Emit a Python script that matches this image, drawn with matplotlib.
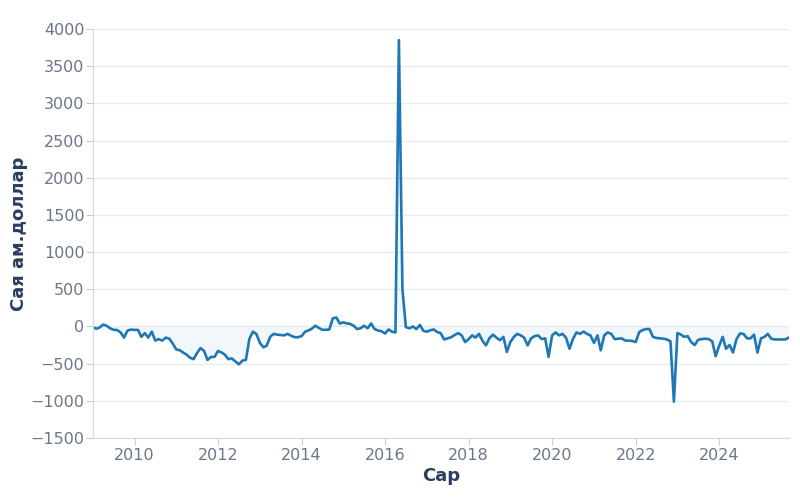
import matplotlib
matplotlib.use('Agg')
import matplotlib.pyplot as plt
import matplotlib.dates as mdates
import numpy as np
import pandas as pd

plt.rc('font', family='DejaVu Sans')

# monthly values, Jan 2009 .. Sep 2025 (сая ам.доллар)
values = [
    -10, -30, -15, 25, 10, -25, -45, -48, -80, -150,
    -55, -42, -47, -47, -140, -90, -150, -70, -190, -170,
    -190, -150, -165, -230, -310, -320, -350, -380, -420, -440,
    -360, -290, -330, -450, -410, -410, -330, -350, -380, -440,
    -430, -470, -510, -460, -450, -170, -70, -100, -220, -280,
    -260, -140, -100, -110, -115, -120, -100, -125, -145, -145,
    -130, -70, -55, -30, 10, -20, -45, -45, -40, 110,
    120, 40, 55, 40, 35, 10, -35, -25, 10, -25,
    40, -35, -55, -65, -95, -40, -70, -80, 3850, 500,
    -10, -25, 0, -35, 20, -60, -70, -50, -40, -75,
    -90, -175, -160, -145, -115, -90, -120, -210, -170, -120,
    -150, -100, -190, -255, -160, -110, -150, -185, -140, -343,
    -210, -140, -100, -120, -150, -255, -160, -130, -120, -170,
    -160, -410, -120, -80, -120, -100, -150, -300, -170, -80,
    -100, -70, -100, -120, -220, -120, -321, -120, -80, -100,
    -170, -165, -160, -190, -190, -195, -210, -75, -50, -35,
    -35, -140, -155, -160, -165, -175, -200, -1010, -90, -110,
    -140, -130, -210, -250, -180, -170, -165, -170, -200, -400,
    -260, -140, -300, -250, -350, -170, -95, -100, -160, -160,
    -110, -350, -160, -140, -100, -165, -175, -175, -175, -175,
    -150,
]
dates = pd.date_range('2009-01-01', periods=len(values), freq='MS')

y_ticks = [-1500, -1000, -500, 0, 500, 1000, 1500, 2000, 2500, 3000, 3500, 4000]

line_col = '#1f77b4'
tick_col = '#6b7689'
label_col = '#2a3f5f'
grid_col = '#e8ebf0'

fig = plt.figure(figsize=(8, 5), dpi=100)
ax = fig.add_axes([0.116, 0.124, 0.87, 0.818])

ax.fill_between(dates, values, 0, color=line_col, alpha=0.06, linewidth=0)
ax.plot(dates, values, color=line_col, linewidth=1.9)

ax.set_ylim(-1500, 4000)
ax.set_yticks(y_ticks)
ax.set_yticklabels([f'{v}'.replace('-', '\u2212') for v in y_ticks])
ax.set_xlim(dates[0], dates[-1])
ax.xaxis.set_major_locator(mdates.YearLocator(2))
ax.xaxis.set_major_formatter(mdates.DateFormatter('%Y'))

ax.grid(axis='y', color=grid_col, linewidth=1)
ax.set_axisbelow(True)
for s in ['top', 'right']:
    ax.spines[s].set_visible(False)
for s in ['left', 'bottom']:
    ax.spines[s].set_color('#d5d9e0')
ax.tick_params(colors='#c8cdd5', labelcolor=tick_col, labelsize=11.5, length=5)
ax.tick_params(axis='y', pad=1)
ax.tick_params(axis='x', pad=2)

ax.set_xlabel('Сар', fontsize=13, fontweight='bold', color=label_col, labelpad=3)
ax.set_ylabel('Сая ам.доллар', fontsize=13, fontweight='bold', color=label_col, labelpad=2)

fig.savefig('out.png', dpi=100)
